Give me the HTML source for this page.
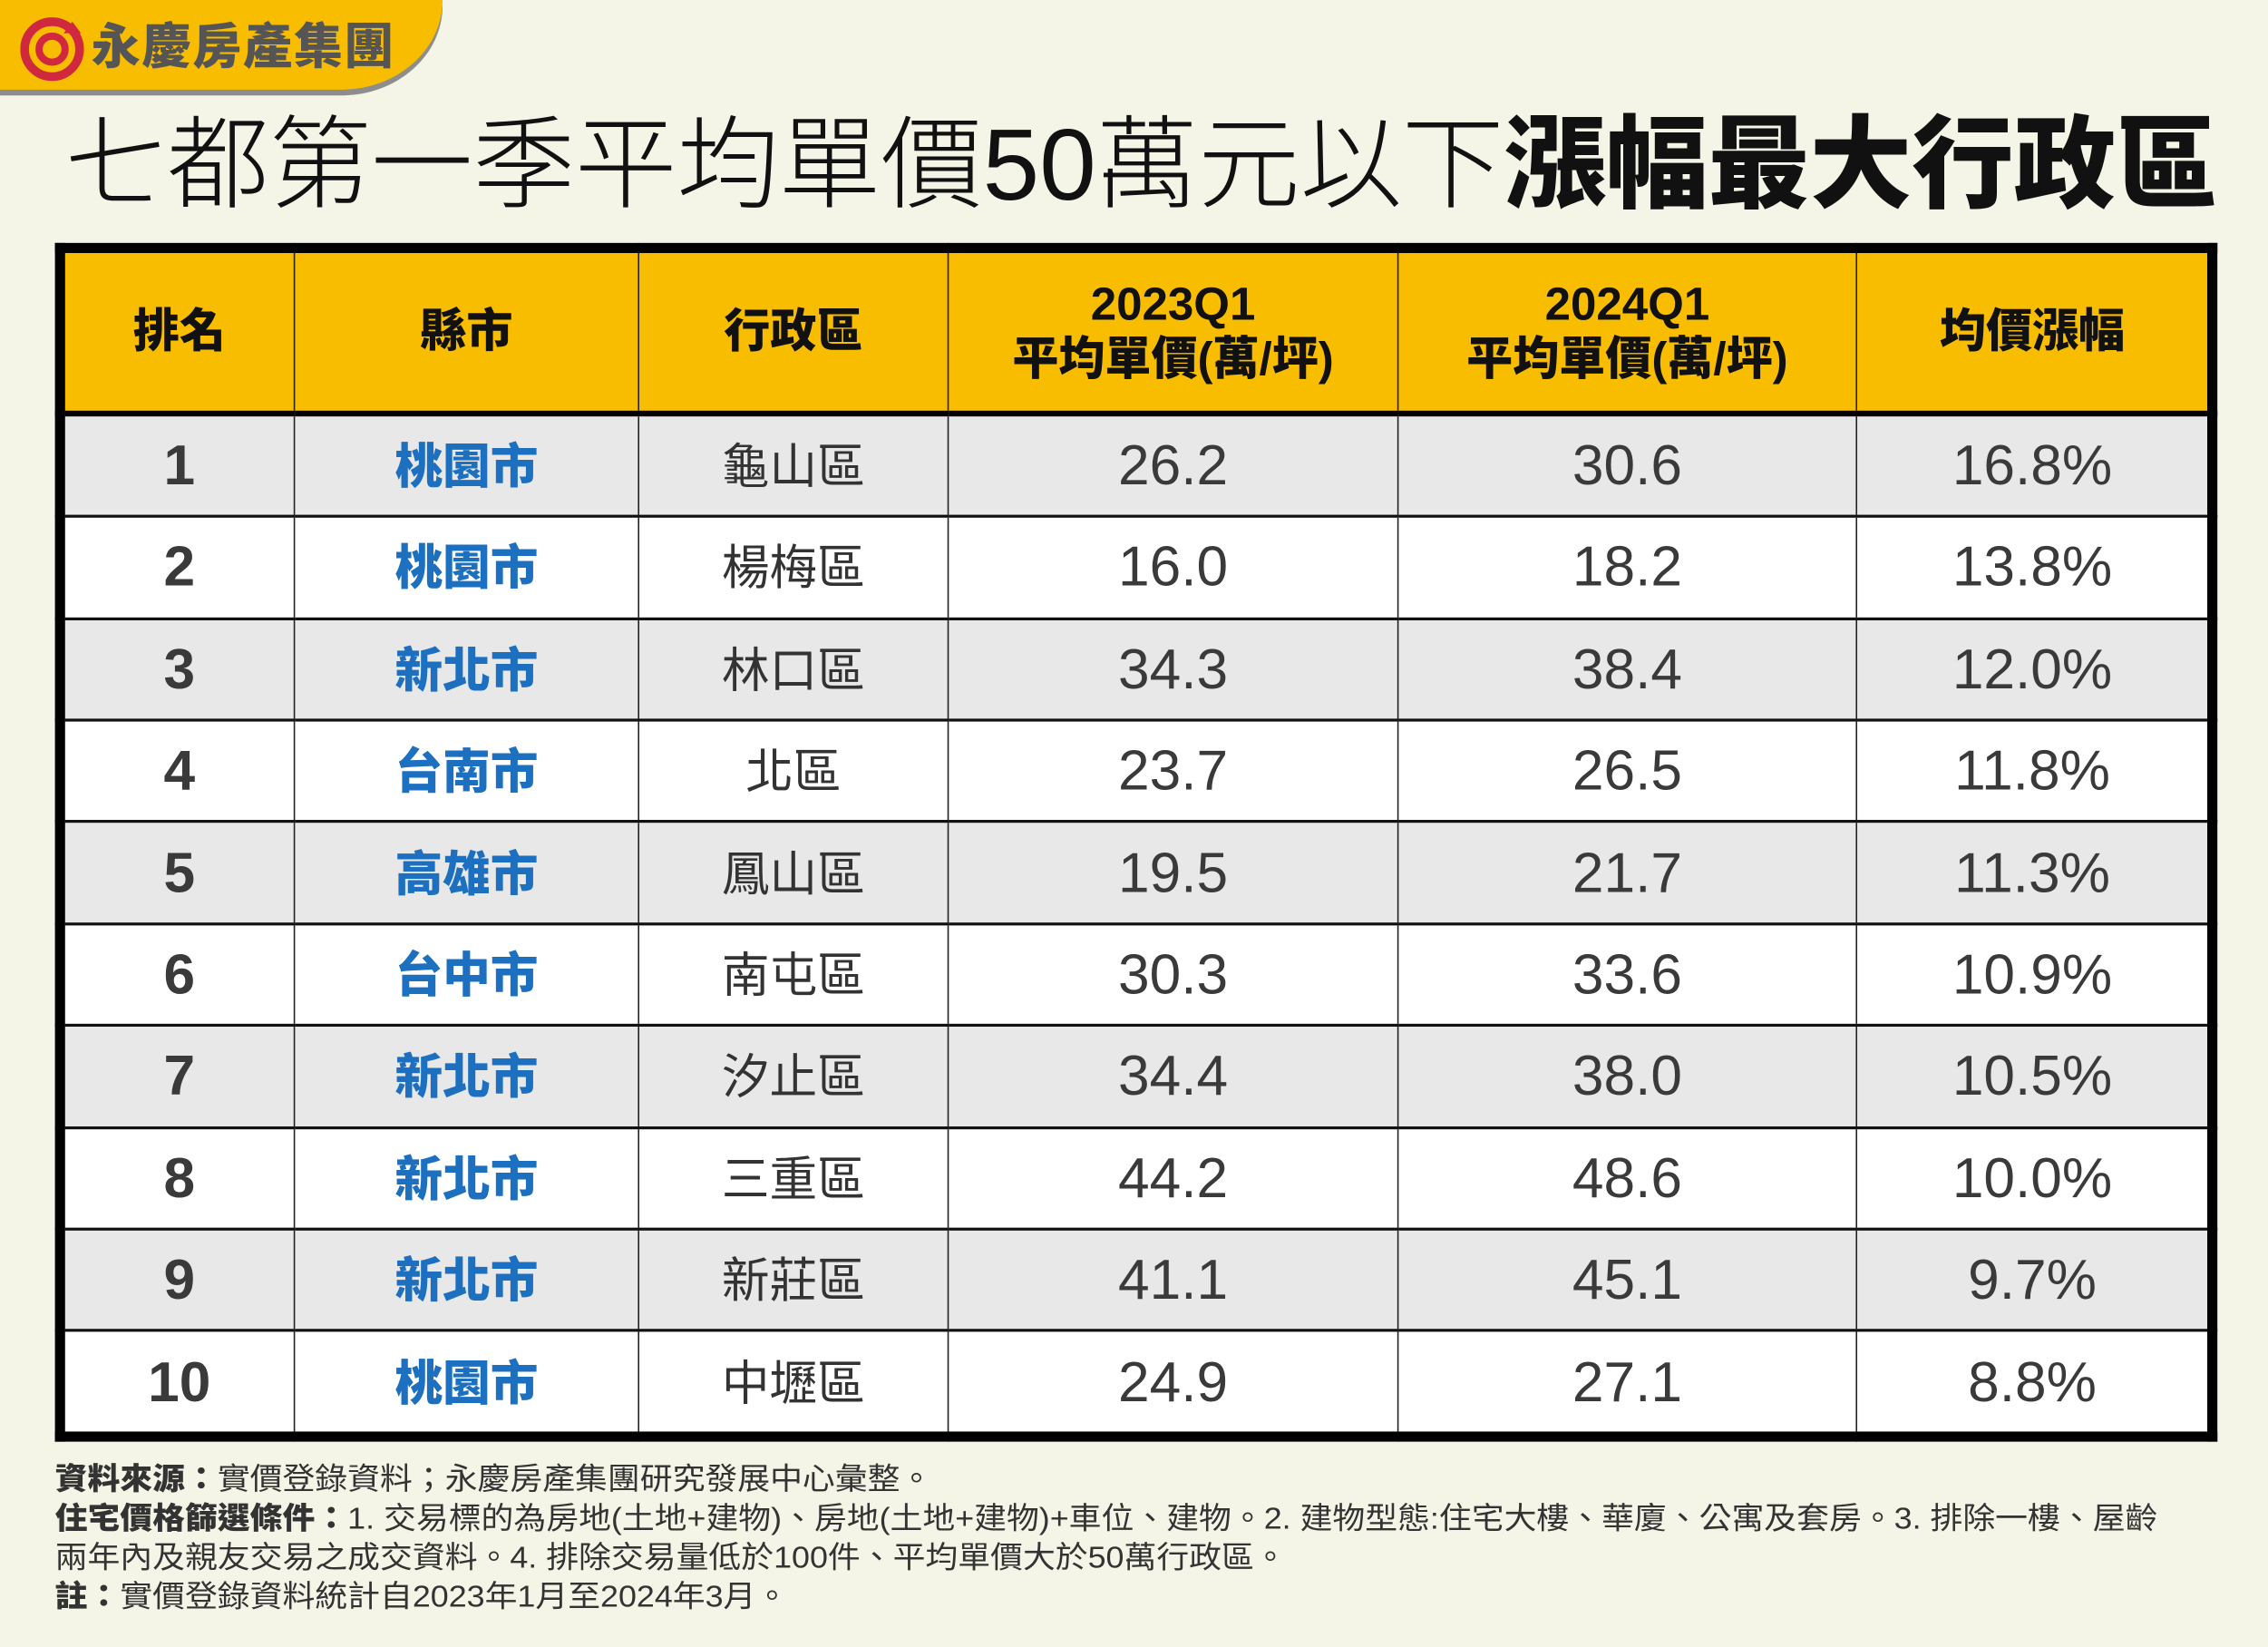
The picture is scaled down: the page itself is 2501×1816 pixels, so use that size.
<!DOCTYPE html>
<html><head><meta charset="utf-8"><style>
html,body{margin:0;padding:0;background:#f4f4e7;overflow:hidden}
#w{position:absolute;left:0;top:0;width:1568px;height:1139px;transform-origin:0 0;transform:scale(1.59503,1.59438);background:#f4f4e7;font-family:"Liberation Sans","Noto Sans CJK TC",sans-serif}
.abs{position:absolute;white-space:nowrap}
#tab{left:0;top:0;width:306px;height:62px;background:#f9bd00;border-bottom-right-radius:70px 62px;box-shadow:0 4px 0 #8d8d8d}
#title{left:45px;top:72px;font-size:70px;line-height:84px;color:#111;font-weight:300;transform-origin:0 0;transform:scaleX(1.007)}
#title b{font-weight:900}
table{position:absolute;left:38px;top:168px;width:1495px;height:829px;border-collapse:collapse;border:7px solid #000;border-radius:3px}
td,th{border:1px solid #222;text-align:center;padding:0}
th{background:#f9bd00;height:108px;font-size:32px;font-weight:900;color:#111;line-height:38px;border-bottom:4px solid #000}
td{height:66px;font-size:39px;line-height:40px;color:#3a3a3a;border-top:2px solid #111;border-bottom:2px solid #111;padding-top:2px}
tr:nth-child(odd) td{background:#fff}
tr:nth-child(even) td{background:#e8e8e8}
td.r{font-weight:bold}
td.c{color:#1d70c0;font-weight:900;font-size:33px}
td.d{font-size:33px;color:#333}
.f{left:38px;font-size:21px;color:#333;transform-origin:0 0;line-height:26px}
.f b{font-weight:900}
</style></head><body><div id="w">
<div id="tab" class="abs"></div>
<svg class="abs" style="left:14px;top:11px" width="46" height="46" viewBox="0 0 46 46">
<circle cx="22" cy="23" r="19" fill="none" stroke="#d0283e" stroke-width="6"/>
<circle cx="22" cy="23" r="9" fill="none" stroke="#d0283e" stroke-width="5"/>
<path d="M30 12 L42 12 L36 4 Z" fill="#d0283e"/>
</svg>
<div class="abs" style="left:63px;top:13px;font-size:34px;font-weight:900;color:#555;letter-spacing:1px;line-height:40px">永慶房產集團</div>
<div id="title" class="abs">七都第一季平均單價50萬元以下<b>漲幅最大行政區</b></div>
<table>
<colgroup><col style="width:162px"><col style="width:238px"><col style="width:214px"><col style="width:311px"><col style="width:317px"><col></colgroup>
<tr><th>排名</th><th>縣市</th><th>行政區</th><th>2023Q1<br>平均單價(萬/坪)</th><th>2024Q1<br>平均單價(萬/坪)</th><th>均價漲幅</th></tr>
<tr><td class="r">1</td><td class="c">桃園市</td><td class="d">龜山區</td><td>26.2</td><td>30.6</td><td>16.8%</td></tr>
<tr><td class="r">2</td><td class="c">桃園市</td><td class="d">楊梅區</td><td>16.0</td><td>18.2</td><td>13.8%</td></tr>
<tr><td class="r">3</td><td class="c">新北市</td><td class="d">林口區</td><td>34.3</td><td>38.4</td><td>12.0%</td></tr>
<tr><td class="r">4</td><td class="c">台南市</td><td class="d">北區</td><td>23.7</td><td>26.5</td><td>11.8%</td></tr>
<tr><td class="r">5</td><td class="c">高雄市</td><td class="d">鳳山區</td><td>19.5</td><td>21.7</td><td>11.3%</td></tr>
<tr><td class="r">6</td><td class="c">台中市</td><td class="d">南屯區</td><td>30.3</td><td>33.6</td><td>10.9%</td></tr>
<tr><td class="r">7</td><td class="c">新北市</td><td class="d">汐止區</td><td>34.4</td><td>38.0</td><td>10.5%</td></tr>
<tr><td class="r">8</td><td class="c">新北市</td><td class="d">三重區</td><td>44.2</td><td>48.6</td><td>10.0%</td></tr>
<tr><td class="r">9</td><td class="c">新北市</td><td class="d">新莊區</td><td>41.1</td><td>45.1</td><td>9.7%</td></tr>
<tr><td class="r">10</td><td class="c">桃園市</td><td class="d">中壢區</td><td>24.9</td><td>27.1</td><td>8.8%</td></tr>
</table>
<div class="abs f" style="top:1011px;transform:scaleX(1.07)"><b>資料來源：</b>實價登錄資料；永慶房產集團研究發展中心彙整。</div>
<div class="abs f" style="top:1038px;transform:scaleX(1.07)"><b>住宅價格篩選條件：</b>1. 交易標的為房地(土地+建物)、房地(土地+建物)+車位、建物。2. 建物型態:住宅大樓、華廈、公寓及套房。3. 排除一樓、屋齡</div>
<div class="abs f" style="top:1065px;transform:scaleX(1.07)">兩年內及親友交易之成交資料。4. 排除交易量低於100件、平均單價大於50萬行政區。</div>
<div class="abs f" style="top:1092px;transform:scaleX(1.07)"><b>註：</b>實價登錄資料統計自2023年1月至2024年3月。</div>
</div></body></html>
